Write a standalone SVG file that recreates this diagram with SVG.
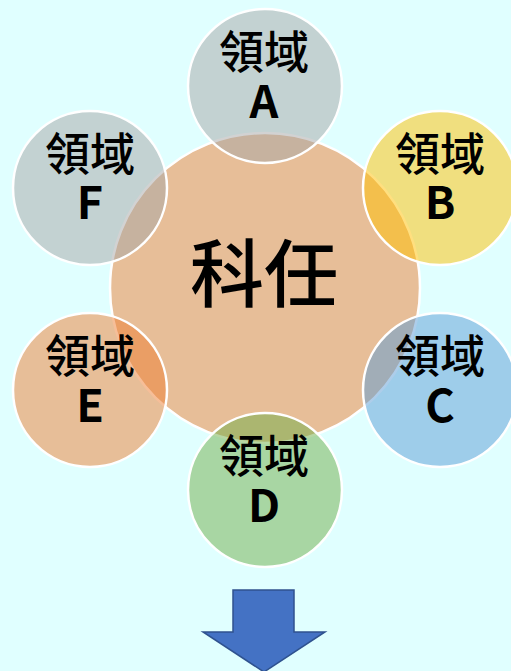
<svg xmlns="http://www.w3.org/2000/svg" width="511" height="671" viewBox="0 0 511 671">
<style>
.c{stroke:#ffffff;stroke-width:2.5;fill-opacity:0.5}
.t{font-family:"Noto Sans CJK TC","Noto Sans CJK SC",sans-serif;font-weight:500;fill:#000;text-anchor:middle}
.s{font-size:45px}
.m{font-size:74px}
.l{font-weight:700}
</style>
<rect width="511" height="671" fill="#e0ffff"/>
<g id="center">
<circle class="c" cx="265" cy="288" r="155" fill="#ed7d31"/>
<text class="t m" x="264" y="301">科任</text>
</g>
<g id="nodeA">
<circle class="c" cx="265" cy="86" r="77" fill="#a5a5a5"/>
<text class="t s" x="264" y="69">領域<tspan class="l" x="264" dy="49">A</tspan></text>
</g>
<g id="nodeB">
<circle class="c" cx="440" cy="188" r="77" fill="#ffc000"/>
<text class="t s" x="440" y="171">領域<tspan class="l" x="440" dy="48">B</tspan></text>
</g>
<g id="nodeC">
<circle class="c" cx="440" cy="390" r="77" fill="#5b9bd5"/>
<text class="t s" x="440" y="373">領域<tspan class="l" x="440" dy="49">C</tspan></text>
</g>
<g id="nodeD">
<circle class="c" cx="265" cy="490" r="77" fill="#70ad47"/>
<text class="t s" x="264" y="473">領域<tspan class="l" x="264" dy="49">D</tspan></text>
</g>
<g id="nodeE">
<circle class="c" cx="90" cy="390" r="77" fill="#ed7d31"/>
<text class="t s" x="90" y="373">領域<tspan class="l" x="90" dy="49">E</tspan></text>
</g>
<g id="nodeF">
<circle class="c" cx="90" cy="188" r="77" fill="#a5a5a5"/>
<text class="t s" x="90" y="171">領域<tspan class="l" x="90" dy="48">F</tspan></text>
</g>
<g id="arrow">
<polygon points="233,590 294,590 294,632 325,632 264,672 203,632 233,632" fill="#4472c4" stroke="#2f528f" stroke-width="1.5"/>
</g>
</svg>
